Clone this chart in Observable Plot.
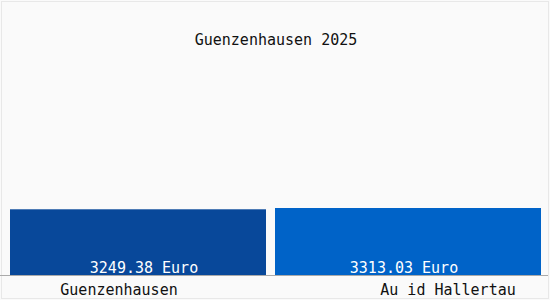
<!DOCTYPE html>
<html>
<head>
<meta charset="utf-8">
<script src="https://cdn.jsdelivr.net/npm/d3@7"></script>
<script src="https://cdn.jsdelivr.net/npm/@observablehq/plot@0.6"></script>
<style>
  html, body { margin: 0; padding: 0; background: #ffffff; }
  #wrap { position: relative; width: 550px; height: 300px; overflow: hidden; background: #fafafa; }
  #frame { position: absolute; left: 1px; top: 1px; width: 546px; height: 296px; border: 1px solid #e8e8e8; pointer-events: none; }
  svg { display: block; }
</style>
</head>
<body>
<div id="wrap"><div id="frame"></div></div>
<script>
const title = "Guenzenhausen 2025";
const categories = ["Guenzenhausen", "Au id Hallertau"];
const values = [3249.38, 3313.03];
const valueLabels = ["3249.38 Euro", "3313.03 Euro"];
const colors = ["#08489a", "#0063c8"];

const data = categories.map((c, i) => ({ name: c, value: values[i], label: valueLabels[i], color: colors[i] }));
const first = data.filter(d => d.name === categories[0]);
const second = data.filter(d => d.name === categories[1]);
const font = "'DejaVu Sans Mono', monospace";

const chart = Plot.plot({
  width: 550,
  height: 300,
  marginLeft: 10,
  marginRight: 9,
  marginTop: 0,
  marginBottom: 25,
  style: { background: "transparent", fontFamily: font, fontSize: "15px", color: "#222" },
  x: { domain: categories, paddingInner: 0.035, paddingOuter: 0, axis: null },
  y: { domain: [0, 13600], axis: null },
  marks: [
    Plot.barY(first, { x: "name", y: "value", fill: "color", insetRight: 5 }),
    Plot.barY(second, { x: "name", y: "value", fill: "color", insetLeft: -5 }),
    Plot.ruleY([0], { stroke: "#aaaaaa", insetLeft: -10, insetRight: -7 }),
    Plot.text(first, { x: "name", y: 0, text: "label", fill: "white", dy: -7, dx: 3, fontSize: 15, fontFamily: font }),
    Plot.text(second, { x: "name", y: 0, text: "label", fill: "white", dy: -7, dx: -7, fontSize: 15, fontFamily: font }),
    Plot.axisX({ filter: d => d === categories[0], tickSize: 0, tickPadding: 0, dy: 9, dx: -22, fontSize: 15, fontFamily: font, fill: "#111", label: null }),
    Plot.axisX({ filter: d => d === categories[1], tickSize: 0, tickPadding: 0, dy: 9, dx: 37, fontSize: 15, fontFamily: font, fill: "#111", label: null }),
    Plot.text([title], { frameAnchor: "top", dy: 34, text: d => d, fontSize: 15, fontFamily: font, fill: "#111" })
  ]
});
chart.style.position = "absolute";
chart.style.left = "0";
chart.style.top = "0";
document.getElementById("wrap").appendChild(chart);
</script>
</body>
</html>
